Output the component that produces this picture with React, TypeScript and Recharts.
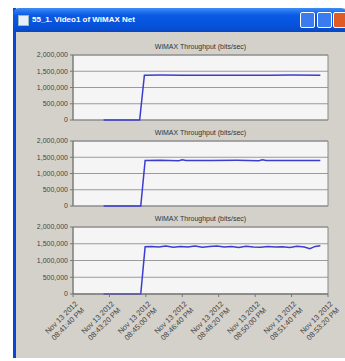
import React from "react";
import {
  LineChart,
  Line,
  XAxis,
  YAxis,
  CartesianGrid,
  ReferenceArea,
} from "recharts";

// seconds since start of simulation
const xTicks = [0, 100, 200, 300, 400, 500, 600, 700];
const xTickDates = ["Nov 13 2012", "Nov 13 2012", "Nov 13 2012", "Nov 13 2012", "Nov 13 2012", "Nov 13 2012", "Nov 13 2012", "Nov 13 2012"];
const xTickTimes = ["08:41:40 PM", "08:43:20 PM", "08:45:00 PM", "08:46:40 PM", "08:48:20 PM", "08:50:00 PM", "08:51:40 PM", "08:53:20 PM"];
const yTicks = [0, 500000, 1000000, 1500000, 2000000];

const t1 = [84, 120, 160, 183, 196, 240, 300, 360, 420, 480, 540, 600, 679];
const v1 = [0, 0, 0, 0, 1380000, 1385000, 1380000, 1375000, 1380000, 1378000, 1380000, 1382000, 1380000];

const t2 = [84, 120, 160, 186, 198, 240, 290, 300, 310, 380, 450, 510, 520, 530, 600, 679];
const v2 = [0, 0, 0, 0, 1400000, 1405000, 1395000, 1420000, 1398000, 1400000, 1405000, 1395000, 1425000, 1400000, 1402000, 1400000];

const t3 = [84, 120, 160, 186, 198, 215, 235, 255, 275, 295, 315, 335, 355, 375, 395, 415, 435, 455, 475, 495, 515, 535, 555, 575, 595, 615, 635, 650, 665, 679];
const v3 = [0, 0, 0, 0, 1410000, 1420000, 1400000, 1430000, 1395000, 1420000, 1405000, 1430000, 1395000, 1415000, 1435000, 1400000, 1420000, 1390000, 1425000, 1405000, 1395000, 1420000, 1400000, 1410000, 1390000, 1425000, 1400000, 1350000, 1420000, 1440000];

const TITLE = "WiMAX Throughput (bits/sec)";
const LINE = "#3c3cd0";
const FONT = "'Liberation Sans', Arial, sans-serif";

const toRows = (t: number[], v: number[]) => t.map((x, i) => ({ t: x, v: v[i] }));

function XTick({ x, y, payload }: any) {
  const i = xTicks.indexOf(payload.value);
  return (
    <g transform={`translate(${x + 1},${y + 1})`}>
      <text
        transform="rotate(-45)"
        textAnchor="end"
        fontSize={7.5}
        fill="#444"
        fontFamily={FONT}
      >
        <tspan x={0} dy={6}>{xTickDates[i]}</tspan>
        <tspan x={0} dy={9}>{xTickTimes[i]}</tspan>
      </text>
    </g>
  );
}

function Panel({
  top,
  data,
  withAxis,
}: {
  top: number;
  data: { t: number; v: number }[];
  withAxis: boolean;
}) {
  const height = withAxis ? 135 : 82;
  return (
    <div style={{ position: "absolute", left: 0, top, width: 345, height }}>
      <div
        style={{
          position: "absolute",
          left: 73,
          width: 255,
          top: 3,
          textAlign: "center",
          fontFamily: FONT,
          fontSize: 7,
          color: "#333",
        }}
      >
        {TITLE}
      </div>
      <LineChart
        width={345}
        height={height}
        data={data}
        margin={{ top: 15, right: 17, bottom: withAxis ? 0 : 2, left: 13 }}
      >
        <CartesianGrid
          vertical={false}
          stroke="#9a9a9a"
          fill="#f5f5f5"
          horizontalValues={yTicks}
        />
        <XAxis
          dataKey="t"
          type="number"
          domain={[0, 700]}
          ticks={xTicks}
          hide={!withAxis}
          height={withAxis ? 53 : 0}
          interval={0}
          tick={<XTick />}
          tickSize={3}
          axisLine={{ stroke: "#777" }}
          tickLine={{ stroke: "#777" }}
        />
        <YAxis
          dataKey="v"
          domain={[0, 2000000]}
          ticks={yTicks}
          width={60}
          interval={0}
          tickSize={3}
          tickFormatter={(v: number) => v.toLocaleString("en-US")}
          tick={{ fontSize: 7, fill: "#444", fontFamily: FONT }}
          axisLine={{ stroke: "#777" }}
          tickLine={{ stroke: "#777" }}
        />
        <ReferenceArea
          x1={0}
          x2={700}
          y1={0}
          y2={2000000}
          stroke="#888"
          fill="none"
          fillOpacity={0}
          ifOverflow="extendDomain"
        />
        <Line
          type="linear"
          dataKey="v"
          stroke={LINE}
          strokeWidth={1.5}
          dot={false}
          isAnimationActive={false}
        />
      </LineChart>
    </div>
  );
}

export default function App() {
  return (
    <div
      style={{
        position: "absolute",
        left: 0,
        top: 0,
        width: 345,
        height: 361,
        background: "#ffffff",
        overflow: "hidden",
      }}
    >
      {/* window frame */}
      <div
        style={{
          position: "absolute",
          left: 13,
          top: 8,
          width: 334,
          height: 350,
          background: "#d4d1cb",
          borderLeft: "3px solid #0a46d8",
          boxSizing: "border-box",
        }}
      />
      {/* title bar */}
      <div
        style={{
          position: "absolute",
          left: 13,
          top: 8,
          width: 334,
          height: 24,
          background: "linear-gradient(#3d8cf5, #0a5ae6 30%, #0650d8 80%, #0a46c0)",
          borderRadius: "6px 6px 0 0",
        }}
      >
        <div
          style={{
            position: "absolute",
            left: 5,
            top: 7,
            width: 9,
            height: 9,
            background: "#e8eefc",
            border: "1px solid #9bb",
          }}
        />
        <div
          style={{
            position: "absolute",
            left: 19,
            top: 7,
            color: "#fff",
            fontFamily: FONT,
            fontWeight: "bold",
            fontSize: 8,
            whiteSpace: "nowrap",
          }}
        >
          55_1. Video1 of WiMAX Net
        </div>
        {[287, 304].map((l) => (
          <div
            key={l}
            style={{
              position: "absolute",
              left: l,
              top: 4,
              width: 13,
              height: 14,
              background: "#3a7cf0",
              border: "1px solid #fff",
              borderRadius: 2,
            }}
          />
        ))}
        <div
          style={{
            position: "absolute",
            left: 320,
            top: 4,
            width: 13,
            height: 14,
            background: "#e05a28",
            border: "1px solid #fff",
            borderRadius: 2,
          }}
        />
      </div>
      <Panel top={40} data={toRows(t1, v1)} withAxis={false} />
      <Panel top={126} data={toRows(t2, v2)} withAxis={false} />
      <Panel top={212} data={toRows(t3, v3)} withAxis={true} />
    </div>
  );
}
